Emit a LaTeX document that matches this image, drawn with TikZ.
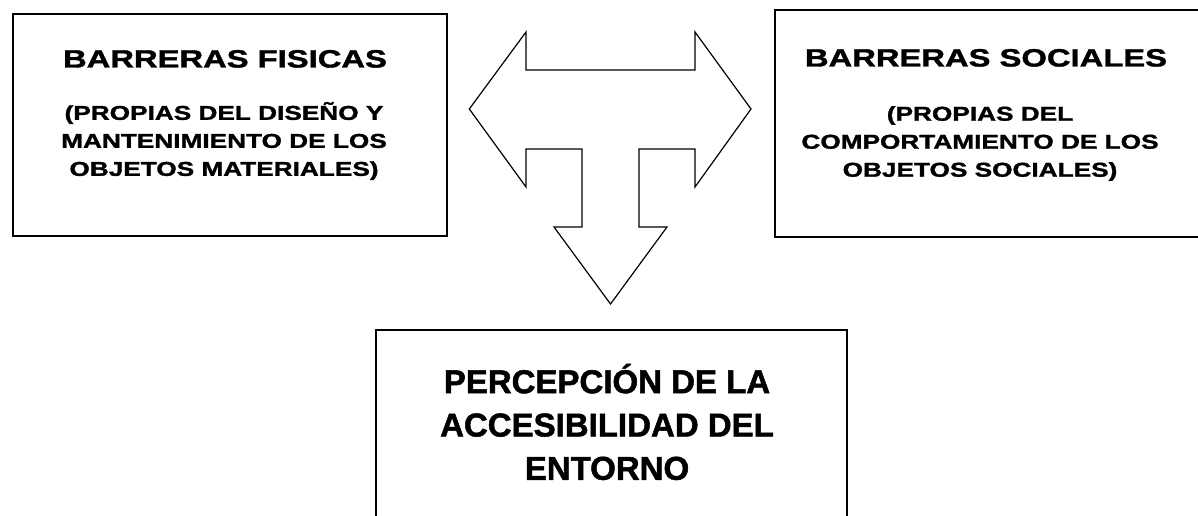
\documentclass[tikz,border=0pt]{standalone}
\usepackage{fontspec}
\setmainfont{Liberation Sans}[BoldFeatures={FakeBold=1.5}]
\newfontfamily\widefont[FakeStretch=1.31, BoldFeatures={FakeBold=1.5}]{Liberation Sans}
\begin{document}
\begin{tikzpicture}[x=1pt,y=-1pt,
  boxstyle/.style={draw=black, line width=1.7pt, inner sep=0pt, anchor=north west},
  titletext/.style={font=\widefont\bfseries\fontsize{25}{30}\selectfont, inner sep=0pt, anchor=base},
  subtext/.style={font=\widefont\bfseries\fontsize{20}{28}\selectfont, align=center, inner sep=0pt},
  bigtext/.style={font=\bfseries\fontsize{33}{43.3}\selectfont, align=center, inner sep=0pt},
  arrowshape/.style={draw=black, line width=1.2pt, line join=miter}]
\fill[white] (0,0) rectangle (1198,516);
\clip (0,0) rectangle (1198,516);

\node[boxstyle, minimum width=434pt, minimum height=222pt] (fis) at (12,13) {};
\node[boxstyle, minimum width=431pt, minimum height=227pt] (soc) at (774,9) {};
\node[boxstyle, minimum width=471pt, minimum height=200pt] (per) at (375,329) {};

\node[titletext] (fisT) at (225,67.5) {BARRERAS FISICAS};
\node[subtext] (fisS) at (224,141) {(PROPIAS DEL DISEÑO Y\\MANTENIMIENTO DE LOS\\OBJETOS MATERIALES)};
\node[titletext] (socT) at (986,66.5) {BARRERAS SOCIALES};
\node[subtext] (socS) at (980,143.5) {(PROPIAS DEL\\COMPORTAMIENTO DE LOS\\OBJETOS SOCIALES)};
\node[bigtext] (perT) at (607,422) {PERCEPCIÓN DE LA\\ACCESIBILIDAD DEL\\ENTORNO};

\draw[arrowshape] (469.3,109) -- (526,32) -- (526,70) -- (695,70) -- (695,32) -- (751,109)
  -- (695,187) -- (695,149) -- (639,149) -- (639,227) -- (667,227) -- (610.5,304)
  -- (554,227) -- (582,227) -- (582,149) -- (526,149) -- (526,187) -- cycle;
\end{tikzpicture}
\end{document}
